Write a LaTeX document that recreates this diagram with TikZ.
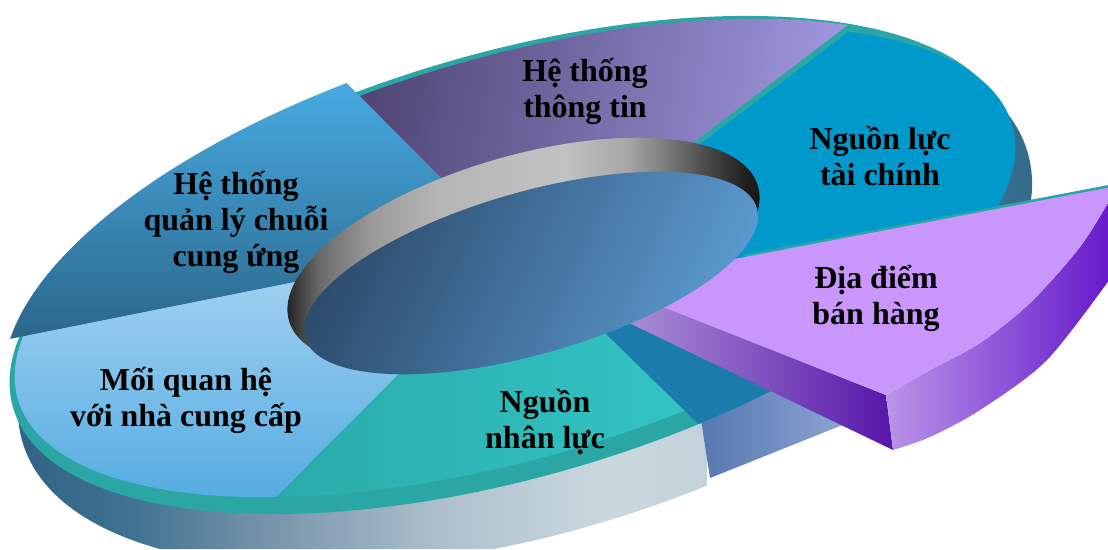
\documentclass[tikz,border=0pt]{standalone}
\usepackage{fontspec}
\setmainfont{Liberation Serif}
\usetikzlibrary{positioning,calc}

\definecolor{tealbase}{HTML}{2AA6A4}
\definecolor{finblue}{HTML}{0099CC}
\definecolor{gapblue}{HTML}{1B7CAC}
\definecolor{lilactop}{HTML}{C997FB}
\definecolor{purpledark}{HTML}{4F4675}
\definecolor{purplelight}{HTML}{A097E0}
\definecolor{scmtop}{HTML}{47AAE1}
\definecolor{scmbottom}{HTML}{2B668A}
\definecolor{suptop}{HTML}{A4D3F1}
\definecolor{supbottom}{HTML}{55ACE2}
\definecolor{hrleft}{HTML}{29ABAA}
\definecolor{hrright}{HTML}{34C6C6}
\definecolor{floordark}{HTML}{2B4868}
\definecolor{floorlight}{HTML}{5C9CD2}
\definecolor{ghostleft}{HTML}{5677B1}
\definecolor{ghostright}{HTML}{8EA5D5}
\definecolor{lilacside}{HTML}{B995E8}
\definecolor{lilacdeep}{HTML}{6518C9}
\definecolor{cutlight}{HTML}{AB8FD6}
\definecolor{cutdark}{HTML}{5616A9}

% side of the ring, left to right
\definecolor{sidea}{HTML}{2B5F80}
\definecolor{sideb}{HTML}{3F7191}
\definecolor{sidec}{HTML}{7D98AD}
\definecolor{sided}{HTML}{AFC1CD}
\definecolor{sidee}{HTML}{CAD8DF}
\definecolor{sidef}{HTML}{C3D2DA}
\definecolor{sideg}{HTML}{7F9DB2}
\definecolor{sideh}{HTML}{3A6F8E}
\definecolor{sidei}{HTML}{2F668A}
\pgfdeclarehorizontalshading{ringside}{100bp}{color(0bp)=(sidea); color(25bp)=(sidea);
  color(31.5bp)=(sideb); color(38.9bp)=(sidec); color(46.3bp)=(sided); color(53.7bp)=(sidee);
  color(58.6bp)=(sidef); color(66bp)=(sideg); color(71.4bp)=(sideh); color(75bp)=(sidei); color(100bp)=(sidei)}

% inner wall of the hole
\definecolor{walla}{HTML}{0D0D0D}
\definecolor{wallb}{HTML}{262626}
\definecolor{wallc}{HTML}{6A6A6A}
\definecolor{walld}{HTML}{9A9A9A}
\definecolor{walle}{HTML}{B5B5B5}
\definecolor{wallf}{HTML}{C2C2C2}
\definecolor{wallg}{HTML}{A8A8A8}
\definecolor{wallh}{HTML}{7A7A7A}
\definecolor{walli}{HTML}{454545}
\definecolor{wallj}{HTML}{1E1E1E}
\definecolor{wallk}{HTML}{111111}
\pgfdeclarehorizontalshading{holewall}{100bp}{color(0bp)=(walla); color(25bp)=(walla);
  color(26.4bp)=(wallb); color(29.5bp)=(wallc); color(34.8bp)=(walld); color(41.2bp)=(walle);
  color(53.9bp)=(wallf); color(60.2bp)=(wallg); color(64.4bp)=(wallh); color(68.7bp)=(walli);
  color(72.4bp)=(wallj); color(75bp)=(wallk); color(100bp)=(wallk)}

\begin{document}
\begin{tikzpicture}[x=0.02cm, y=0.02cm,
    segtext/.style={align=center, font=\bfseries\fontsize{18.2}{20.5}\selectfont, text=black, inner sep=0pt},
    ringframe/.style={shift={(510,284)}, rotate=16},
    faceframe/.style={shift={(510,291)}, rotate=16},
    finframe/.style={shift={(520,283)}, rotate=16}
]
\useasboundingbox (0,0) rectangle (1108,549);
\clip (0,0) rectangle (1108,549);

% Hidden corners under the hole
\coordinate (hub) at (523,289);
\coordinate (in1) at (470,342);
\coordinate (in2) at (668,387);
\coordinate (in2b) at (671,383);
\coordinate (in3) at (700,259);
\coordinate (in4) at (583.5,237);
\coordinate (in5) at (415,191);
\coordinate (in6) at (329,274);

% Side of the ring
\begin{scope}
  \clip (0,0) rectangle (707,549) (900,0) rectangle (1108,549);
  \shade[shading=ringside, shift={(525,252)}, rotate=16] (0,0) ellipse (523 and 238);
\end{scope}

% Empty place of the pulled out piece
\shade[left color=ghostleft, right color=ghostright]
  (698,149) -- (710,71) -- (850,127) -- (850,199) -- cycle;

% Top of the ring
\begin{scope}[ringframe]
  \fill[tealbase] (0,0) ellipse (517 and 212.5);
\end{scope}

% Segments
\begin{scope}[faceframe]
  \shade[top color=purpledark, bottom color=purplelight, shading angle=80]
    (in1) -- (103:512 and 201) arc[start angle=103, end angle=40.6, x radius=512, y radius=201]
    -- (in2) -- (hub) -- cycle;
  \shade[top color=suptop, bottom color=supbottom]
    (in6) -- (160:512 and 201) arc[start angle=160, end angle=235.4, x radius=512, y radius=201]
    -- (in5) -- (hub) -- cycle;
  \shade[left color=hrleft, right color=hrright]
    (in5) -- (235.4:512 and 201) arc[start angle=235.4, end angle=290, x radius=512, y radius=201]
    -- (in4) -- (hub) -- cycle;
  \shade[top color=scmtop, bottom color=scmbottom]
    (in1) -- (102:523 and 218) arc[start angle=102, end angle=164, x radius=523, y radius=218]
    -- (in6) -- (hub) -- cycle;
\end{scope}
\begin{scope}[finframe]
  \fill[finblue]
    (in2b) -- (42:512 and 201) arc[start angle=42, end angle=-30, x radius=512, y radius=201]
    -- (in3) -- (hub) -- cycle;
\end{scope}
\begin{scope}[ringframe]
  \fill[gapblue]
    (in4) -- (-74.6:517 and 212.5) arc[start angle=-74.6, end angle=-30, x radius=517, y radius=212.5]
    -- (in3) -- cycle;
\end{scope}

% Pulled out piece
\draw[tealbase, line width=3pt] (745,292) -- (1112,362);
\shade[left color=cutlight, right color=cutdark]
  (625,257) -- (886,154) -- (893,99) -- (625,228) -- cycle;
\shade[left color=lilacside, right color=lilacdeep]
  (886,154) -- plot[smooth] coordinates {(886,154) (930,179) (980,206) (1030,246) (1080,302) (1112,353)}
  -- (1112,273) -- plot[smooth] coordinates {(1112,273) (1047,189) (980,139) (930,112) (893,99)} -- cycle;
\fill[lilactop]
  (640,272) -- (1112,362) -- (1112,353)
  -- plot[smooth] coordinates {(1112,353) (1080,302) (1030,246) (980,206) (930,179) (886,154)}
  -- (640,251) -- cycle;

% Hole
\shade[shading=holewall, shift={(523.5,295.5)}, rotate=16] (0,0) ellipse (244 and 98);
\shade[top color=floordark, bottom color=floorlight, shading angle=65, shift={(531,276)}, rotate=16]
  (0,0) ellipse (235 and 81);

% Labels
\node[segtext] (infosys) at (585,458) {Hệ thống\\thông tin};
\node[segtext] (finance) at (880,393) {Nguồn lực\\tài chính};
\node[segtext] (supplychain) at (236,327) {Hệ thống\\quản lý chuỗi\\cung ứng};
\node[segtext] (salespoint) at (876,251) {Địa điểm\\bán hàng};
\node[segtext] (suppliers) at (186,149) {Mối quan hệ\\với nhà cung cấp};
\node[segtext] (staff) at (545,127) {Nguồn\\nhân lực};

\end{tikzpicture}
\end{document}
